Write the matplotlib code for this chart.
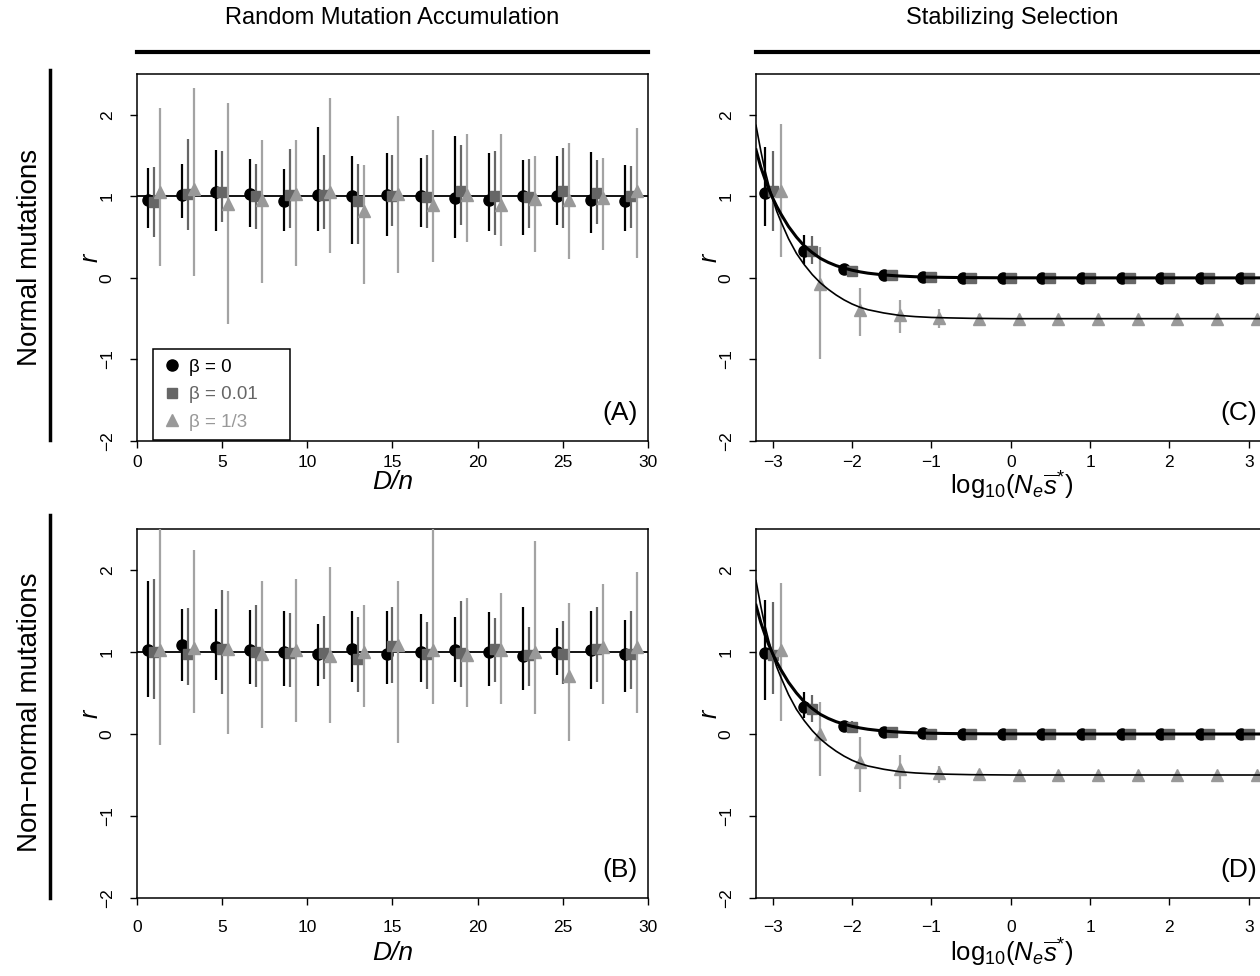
import matplotlib.pyplot as plt
import numpy as np
from matplotlib.lines import Line2D

plt.rcParams['font.family'] = ['Liberation Sans', 'DejaVu Sans']
plt.rcParams['mathtext.fontset'] = 'custom'
plt.rcParams['mathtext.rm'] = 'Liberation Sans'
plt.rcParams['mathtext.it'] = 'Liberation Sans:italic'

# Left column: random mutation accumulation, groups at D/n
dn_centers = np.arange(1, 30, 2)

A_b0 = [0.96, 1.02, 1.05, 1.03, 0.94, 1.02, 1.00, 1.02, 1.01, 0.98, 0.96, 1.00, 1.00, 0.95, 0.94]
A_b0_lo = [0.61, 0.73, 0.57, 0.62, 0.57, 0.57, 0.42, 0.51, 0.63, 0.49, 0.58, 0.52, 0.65, 0.55, 0.57]
A_b0_hi = [1.35, 1.40, 1.57, 1.46, 1.34, 1.85, 1.50, 1.53, 1.47, 1.74, 1.53, 1.45, 1.49, 1.54, 1.39]
A_b1 = [0.93, 1.03, 1.05, 1.01, 1.02, 1.02, 0.94, 1.01, 0.99, 1.06, 1.01, 0.99, 1.06, 1.04, 1.01]
A_b1_lo = [0.50, 0.59, 0.69, 0.60, 0.61, 0.60, 0.42, 0.64, 0.61, 0.65, 0.52, 0.61, 0.61, 0.66, 0.61]
A_b1_hi = [1.36, 1.70, 1.55, 1.40, 1.58, 1.51, 1.40, 1.51, 1.51, 1.63, 1.56, 1.46, 1.59, 1.45, 1.37]
A_b3 = [1.05, 1.09, 0.91, 0.95, 1.03, 1.05, 0.82, 1.03, 0.89, 1.02, 0.89, 0.97, 0.95, 0.98, 1.07]
A_b3_lo = [0.14, 0.02, -0.57, -0.06, 0.14, 0.30, -0.08, 0.06, 0.19, 0.44, 0.39, 0.32, 0.23, 0.34, 0.25]
A_b3_hi = [2.08, 2.33, 2.14, 1.69, 1.69, 2.21, 1.38, 1.98, 1.81, 1.77, 1.77, 1.49, 1.65, 1.47, 1.84]

B_b0 = [1.02, 1.08, 1.06, 1.03, 1.00, 0.97, 1.04, 0.98, 1.00, 1.03, 1.00, 0.95, 1.00, 1.02, 0.97]
B_b0_lo = [0.45, 0.65, 0.66, 0.61, 0.59, 0.59, 0.63, 0.61, 0.64, 0.63, 0.58, 0.54, 0.72, 0.55, 0.51]
B_b0_hi = [1.86, 1.52, 1.53, 1.51, 1.50, 1.34, 1.50, 1.50, 1.46, 1.43, 1.49, 1.55, 1.29, 1.50, 1.39]
B_b1 = [1.00, 0.98, 1.04, 1.00, 0.99, 0.99, 0.92, 1.07, 0.97, 0.99, 1.04, 0.96, 0.97, 1.04, 0.97]
B_b1_lo = [0.43, 0.60, 0.49, 0.57, 0.57, 0.67, 0.51, 0.62, 0.55, 0.57, 0.63, 0.58, 0.61, 0.63, 0.55]
B_b1_hi = [1.89, 1.54, 1.76, 1.57, 1.48, 1.44, 1.43, 1.55, 1.37, 1.62, 1.42, 1.30, 1.38, 1.55, 1.50]
B_b3 = [1.03, 1.05, 1.04, 0.97, 1.03, 0.95, 1.00, 1.09, 1.03, 0.96, 1.03, 1.00, 0.71, 1.06, 1.06]
B_b3_lo = [-0.14, 0.26, 0.00, 0.07, 0.15, 0.13, 0.33, -0.11, 0.36, 0.33, 0.37, 0.25, -0.08, 0.37, 0.26]
B_b3_hi = [2.60, 2.24, 1.75, 1.87, 1.89, 2.04, 1.57, 1.87, 2.60, 1.66, 1.72, 2.35, 1.60, 1.83, 1.97]

# Right column: stabilizing selection, groups at log10(Ne s*)
log_centers = np.arange(-3.0, 3.01, 0.5)

C_b0 = [1.04, 0.33, 0.11, 0.03, 0.01, 0.0, 0.0, 0.0, 0.0, 0.0, 0.0, 0.0, 0.0]
C_b0_lo = [0.64, 0.17, 0.07, 0.02, 0.0, 0.0, 0.0, 0.0, 0.0, 0.0, 0.0, 0.0, 0.0]
C_b0_hi = [1.60, 0.53, 0.15, 0.05, 0.02, 0.0, 0.0, 0.0, 0.0, 0.0, 0.0, 0.0, 0.0]
C_b1 = [1.07, 0.33, 0.09, 0.03, 0.01, 0.0, 0.0, 0.0, 0.0, 0.0, 0.0, 0.0, 0.0]
C_b1_lo = [0.58, 0.17, 0.05, 0.01, 0.0, 0.0, 0.0, 0.0, 0.0, 0.0, 0.0, 0.0, 0.0]
C_b1_hi = [1.56, 0.51, 0.13, 0.05, 0.02, 0.0, 0.0, 0.0, 0.0, 0.0, 0.0, 0.0, 0.0]
C_b3 = [1.07, -0.08, -0.39, -0.46, -0.49, -0.50, -0.50, -0.50, -0.50, -0.50, -0.50, -0.50, -0.50]
C_b3_lo = [0.26, -0.99, -0.71, -0.68, -0.62, -0.56, -0.52, -0.50, -0.50, -0.50, -0.50, -0.50, -0.50]
C_b3_hi = [1.89, 0.38, -0.13, -0.27, -0.38, -0.44, -0.48, -0.50, -0.50, -0.50, -0.50, -0.50, -0.50]

D_b0 = [0.99, 0.33, 0.10, 0.03, 0.01, 0.0, 0.0, 0.0, 0.0, 0.0, 0.0, 0.0, 0.0]
D_b0_lo = [0.41, 0.19, 0.06, 0.02, 0.0, 0.0, 0.0, 0.0, 0.0, 0.0, 0.0, 0.0, 0.0]
D_b0_hi = [1.63, 0.51, 0.14, 0.05, 0.02, 0.0, 0.0, 0.0, 0.0, 0.0, 0.0, 0.0, 0.0]
D_b1 = [0.96, 0.31, 0.08, 0.02, 0.0, 0.0, 0.0, 0.0, 0.0, 0.0, 0.0, 0.0, 0.0]
D_b1_lo = [0.49, 0.15, 0.04, 0.01, 0.0, 0.0, 0.0, 0.0, 0.0, 0.0, 0.0, 0.0, 0.0]
D_b1_hi = [1.61, 0.48, 0.16, 0.04, 0.01, 0.0, 0.0, 0.0, 0.0, 0.0, 0.0, 0.0, 0.0]
D_b3 = [1.02, 0.00, -0.34, -0.43, -0.47, -0.49, -0.50, -0.50, -0.50, -0.50, -0.50, -0.50, -0.50]
D_b3_lo = [0.16, -0.51, -0.71, -0.67, -0.60, -0.56, -0.52, -0.50, -0.50, -0.50, -0.50, -0.50, -0.50]
D_b3_hi = [1.84, 0.39, -0.04, -0.26, -0.39, -0.44, -0.48, -0.50, -0.50, -0.50, -0.50, -0.50, -0.50]

# Theory curves
fit_x = [-3.21, -3.15, -3.1, -3.05, -3.0, -2.95, -2.9, -2.8, -2.7, -2.6, -2.5, -2.4, -2.3,
         -2.2, -2.1, -2.0, -1.9, -1.8, -1.6, -1.4, -1.2, -1.0, -0.8, -0.5, 0.0, 1.0, 3.3]
fit_small = [1.57, 1.36, 1.22, 1.09, 0.98, 0.88, 0.79, 0.63, 0.50, 0.39, 0.31, 0.24, 0.19,
             0.15, 0.12, 0.094, 0.074, 0.058, 0.036, 0.023, 0.014, 0.009, 0.006, 0.003, 0.001, 0.0, 0.0]
fit_third = [1.87, 1.56, 1.33, 1.14, 0.97, 0.82, 0.70, 0.48, 0.30, 0.16, 0.04, -0.06, -0.14,
             -0.21, -0.27, -0.32, -0.36, -0.39, -0.43, -0.46, -0.475, -0.485, -0.49, -0.496, -0.5, -0.5, -0.5]

legend_labels = ['β = 0', 'β = 0.01', 'β = 1/3']
marker_styles = [('o', 'black', 'black', 8), ('s', '#666666', '#666666', 7), ('^', '#999999', '#a3a3a3', 8)]

W, H = 1260, 976
fig = plt.figure(figsize=(W / 100, H / 100), dpi=100)


def px_axes(left, top, right, bottom):
    return fig.add_axes([left / W, 1 - bottom / H, (right - left) / W, (bottom - top) / H])


ax_A = px_axes(137, 74, 648, 441)
ax_C = px_axes(756, 74, 1267, 441)
ax_B = px_axes(137, 529, 648, 898)
ax_D = px_axes(756, 529, 1267, 898)


def draw_groups(ax, centers, dodge, series):
    for k, (y, lo, hi) in enumerate(series):
        m, c, ec, ms = marker_styles[k]
        xs = centers + (k - 1) * dodge
        ax.vlines(xs, lo, hi, color=ec, lw=1.6, zorder=2 + k)
        ax.plot(xs, y, m, color=c, ms=ms, ls='none', zorder=2 + k)


def style_axes(ax, xlim, xticks, label):
    ax.set_xlim(xlim)
    ax.set_ylim(-2, 2.5)
    ax.set_xticks(xticks)
    ax.set_yticks([-2, -1, 0, 1, 2])
    ax.set_yticklabels(['−2', '−1', '0', '1', '2'], rotation=90, va='center')
    ax.tick_params(direction='out', length=5, width=1, labelsize=12.5)
    ax.tick_params(axis='y', pad=11)
    ax.tick_params(axis='x', pad=5)
    for s in ax.spines.values():
        s.set_linewidth(1.1)
    ax.set_ylabel('r', fontstyle='italic', fontsize=18, labelpad=-2)
    ax.text(0.98, 0.076, label, transform=ax.transAxes, ha='right', va='center', fontsize=19)


# Random mutation accumulation panels
for ax, series, lab in [(ax_A, [(A_b0, A_b0_lo, A_b0_hi), (A_b1, A_b1_lo, A_b1_hi), (A_b3, A_b3_lo, A_b3_hi)], '(A)'),
                        (ax_B, [(B_b0, B_b0_lo, B_b0_hi), (B_b1, B_b1_lo, B_b1_hi), (B_b3, B_b3_lo, B_b3_hi)], '(B)')]:
    ax.axhline(1, color='black', lw=1.3, zorder=1)
    draw_groups(ax, dn_centers, 0.35, series)
    style_axes(ax, (0, 30), np.arange(0, 31, 5), lab)
    ax.set_xlabel('D/n', fontstyle='italic', fontsize=19)

# Stabilizing selection panels
for ax, series, lab in [(ax_C, [(C_b0, C_b0_lo, C_b0_hi), (C_b1, C_b1_lo, C_b1_hi), (C_b3, C_b3_lo, C_b3_hi)], '(C)'),
                        (ax_D, [(D_b0, D_b0_lo, D_b0_hi), (D_b1, D_b1_lo, D_b1_hi), (D_b3, D_b3_lo, D_b3_hi)], '(D)')]:
    draw_groups(ax, log_centers, 0.1, series)
    ax.plot(fit_x, fit_small, color='black', lw=2.2, zorder=6)
    ax.plot(fit_x, fit_third, color='black', lw=1.2, zorder=6)
    style_axes(ax, (-3.21, 3.23), np.arange(-3, 4, 1), lab)
    ax.set_xlabel(r'$\mathrm{log}_{10}(N_e\overline{s}^{*})$', fontsize=18.5)

# Bottom row sits a little lower under its axis
for ax in (ax_B, ax_D):
    ax.tick_params(axis='x', pad=11)
ax_A.xaxis.labelpad = 0
ax_C.xaxis.labelpad = 0
ax_B.xaxis.labelpad = 4
ax_D.xaxis.labelpad = 1

# Legend in panel A
handles = [Line2D([], [], marker=m, color=c, ls='none', ms=ms) for m, c, ec, ms in marker_styles]
leg = ax_A.legend(handles, legend_labels, loc='lower left', bbox_to_anchor=(0.031, 0.003, 0.268, 0.25),
                  mode='expand', fontsize=13.5, labelcolor=['black', '#666666', '#999999'],
                  handlelength=1.0, handletextpad=0.45, borderpad=0.5, labelspacing=0.55,
                  fancybox=False, edgecolor='black', framealpha=1, borderaxespad=0)
leg.get_frame().set_linewidth(1.1)

# Column headers and row labels
fig.text(392 / W, 1 - 18 / H, 'Random Mutation Accumulation', ha='center', va='center', fontsize=17)
fig.text(1012 / W, 1 - 18 / H, 'Stabilizing Selection', ha='center', va='center', fontsize=17)
fig.add_artist(Line2D([137 / W, 648 / W], [1 - 52 / H] * 2, color='black', lw=3))
fig.add_artist(Line2D([756 / W, 1.0], [1 - 52 / H] * 2, color='black', lw=3))

fig.text(30 / W, 1 - 257 / H, 'Normal mutations', rotation=90, ha='center', va='center', fontsize=20)
fig.text(30 / W, 1 - 712 / H, 'Non−normal mutations', rotation=90, ha='center', va='center', fontsize=20)
fig.add_artist(Line2D([50 / W] * 2, [1 - 70 / H, 1 - 440 / H], color='black', lw=2.5))
fig.add_artist(Line2D([50 / W] * 2, [1 - 515 / H, 1 - 898 / H], color='black', lw=2.5))

fig.savefig('out.png', dpi=100)
